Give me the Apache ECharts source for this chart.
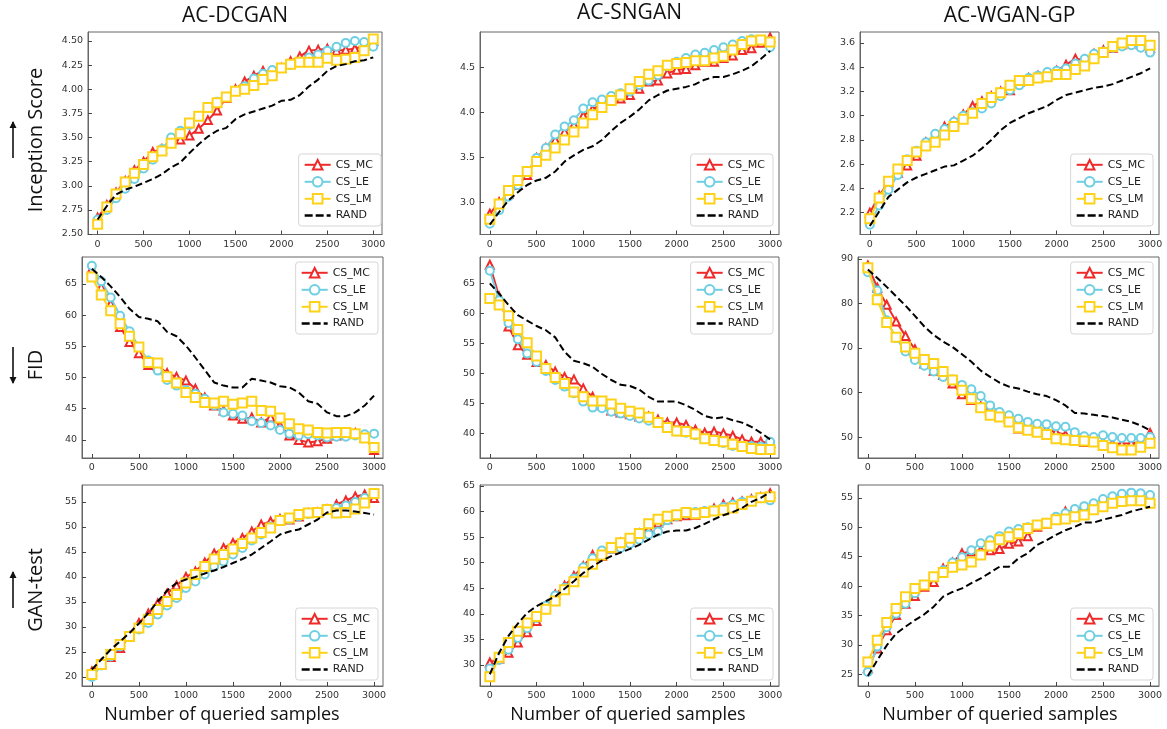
<!DOCTYPE html>
<html><head><meta charset="utf-8">
<script src="https://cdn.jsdelivr.net/npm/echarts@6/dist/echarts.min.js"></script>
<style>html,body{margin:0;padding:0;background:#fff}#c{width:1167px;height:729px}</style>
</head><body><div id="c"></div>
<script>
// ---------------- DATA ----------------
const xs = [0,100,200,300,400,500,600,700,800,900,1000,1100,1200,1300,1400,1500,1600,1700,1800,1900,2000,2100,2200,2300,2400,2500,2600,2700,2800,2900,3000];
const seriesNames = ['CS_MC','CS_LE','CS_LM','RAND'];
const columnTitles = ['AC-DCGAN','AC-SNGAN','AC-WGAN-GP'];
const rowTitles = ['Inception Score','FID','GAN-test'];
const xAxisName = 'Number of queried samples';
const xTicks = [0,500,1000,1500,2000,2500,3000];

// Inception Score
const isDcganMC = [2.67,2.80,2.93,3.05,3.16,3.25,3.35,3.38,3.47,3.48,3.52,3.59,3.68,3.78,3.91,4.00,4.08,4.14,4.19,4.19,4.22,4.29,4.34,4.40,4.41,4.42,4.40,4.41,4.42,4.45,4.50];
const isDcganLE = [2.65,2.75,2.87,2.97,3.07,3.18,3.27,3.38,3.50,3.57,3.63,3.72,3.81,3.87,3.92,3.98,4.03,4.11,4.16,4.20,4.22,4.25,4.28,4.33,4.36,4.40,4.44,4.48,4.50,4.49,4.44];
const isDcganLM = [2.60,2.78,2.915,3.04,3.13,3.22,3.30,3.36,3.44,3.54,3.65,3.72,3.81,3.86,3.92,3.98,4.00,4.04,4.10,4.14,4.22,4.26,4.28,4.28,4.28,4.32,4.30,4.31,4.33,4.40,4.52];
const isDcganRAND = [2.65,2.79,2.91,2.96,2.99,3.03,3.07,3.12,3.19,3.24,3.34,3.43,3.51,3.57,3.60,3.69,3.74,3.77,3.80,3.83,3.88,3.89,3.94,4.03,4.10,4.19,4.24,4.26,4.29,4.30,4.33];

const isSnganMC = [2.87,3.00,3.09,3.19,3.30,3.49,3.60,3.69,3.78,3.86,3.96,4.03,4.09,4.15,4.15,4.19,4.26,4.34,4.35,4.43,4.47,4.48,4.52,4.56,4.56,4.60,4.63,4.69,4.71,4.77,4.83];
const isSnganLE = [2.76,2.91,3.06,3.19,3.34,3.49,3.60,3.75,3.84,3.91,4.04,4.11,4.14,4.18,4.21,4.23,4.30,4.35,4.41,4.51,4.56,4.60,4.64,4.66,4.69,4.72,4.75,4.79,4.81,4.80,4.72];
const isSnganLM = [2.81,2.98,3.13,3.24,3.34,3.45,3.52,3.60,3.69,3.78,3.88,3.97,4.05,4.13,4.19,4.26,4.34,4.42,4.46,4.52,4.54,4.55,4.57,4.57,4.60,4.62,4.69,4.75,4.79,4.80,4.78];
const isSnganRAND = [2.75,2.89,3.02,3.11,3.19,3.24,3.27,3.34,3.45,3.52,3.58,3.62,3.69,3.79,3.88,3.95,4.03,4.13,4.19,4.24,4.26,4.28,4.31,4.36,4.39,4.39,4.42,4.46,4.51,4.59,4.68];

const isWganMC = [2.20,2.34,2.45,2.53,2.59,2.67,2.78,2.84,2.91,2.95,3.01,3.08,3.12,3.16,3.20,3.21,3.28,3.31,3.33,3.34,3.37,3.42,3.47,3.46,3.51,3.54,3.56,3.59,3.61,3.59,3.56];
const isWganLE = [2.10,2.26,2.39,2.51,2.64,2.71,2.78,2.85,2.89,2.95,3.00,3.03,3.06,3.10,3.16,3.21,3.25,3.31,3.33,3.36,3.37,3.39,3.43,3.47,3.51,3.53,3.56,3.57,3.58,3.56,3.52];
const isWganLM = [2.15,2.32,2.46,2.56,2.63,2.70,2.75,2.78,2.84,2.91,2.97,3.02,3.10,3.15,3.19,3.25,3.29,3.29,3.31,3.32,3.34,3.34,3.38,3.41,3.47,3.52,3.57,3.60,3.62,3.62,3.58];
const isWganRAND = [2.09,2.21,2.33,2.39,2.45,2.49,2.52,2.55,2.58,2.59,2.63,2.67,2.73,2.80,2.88,2.94,2.98,3.02,3.05,3.08,3.13,3.17,3.19,3.21,3.23,3.24,3.26,3.29,3.32,3.35,3.39];

// FID
const fidDcganMC = [67.4,64.5,61.8,58.1,55.7,53.9,52.0,51.9,50.7,50.1,49.5,48.2,46.8,45.5,44.7,43.9,43.4,43.6,42.8,43.6,42.3,40.7,40.0,39.6,39.8,40.2,40.7,41.0,41.1,40.4,38.4];
const fidDcganLE = [67.9,65.4,62.8,59.9,57.4,54.9,52.7,51.1,49.6,48.7,48.0,47.4,46.6,45.5,44.4,44.2,43.9,43.0,42.7,42.3,41.6,41.0,40.7,40.9,40.7,40.4,40.5,40.5,40.7,40.9,41.0];
const fidDcganLM = [66.1,63.2,60.7,58.6,56.6,54.9,52.4,52.3,50.1,49.1,47.6,46.8,46.0,45.9,46.2,45.7,45.9,46.2,44.7,44.6,43.5,42.6,41.8,41.6,41.2,41.1,41.2,41.2,41.0,40.3,38.8];
const fidDcganRAND = [67.4,66.1,64.6,62.9,61.0,59.7,59.4,59.0,57.3,56.6,55.1,53.2,51.2,49.2,48.7,48.4,48.4,49.8,49.5,49.2,48.6,48.4,47.6,46.2,45.8,44.4,43.8,43.8,44.4,45.5,47.1];

const fidSnganMC = [68.1,62.8,57.8,54.7,53.1,51.9,51.4,50.3,49.4,49.0,47.5,46.1,44.7,43.8,43.5,43.2,42.8,42.8,42.3,41.8,41.8,41.4,40.6,40.1,40.3,40.0,39.6,39.0,38.6,38.6,38.4];
const fidSnganLE = [67.1,62.2,58.4,55.7,53.3,51.9,50.4,48.9,47.8,46.7,45.3,44.3,44.2,43.6,43.3,42.9,42.5,42.1,41.7,41.1,40.3,40.1,39.7,39.2,38.7,38.4,37.9,37.8,37.9,37.8,38.6];
const fidSnganLM = [62.5,61.4,59.6,57.3,55.1,52.9,50.8,49.3,48.3,46.9,46.1,45.4,45.4,44.9,44.2,43.7,43.4,42.7,41.8,41.0,40.4,40.3,39.9,39.1,38.8,38.6,38.2,37.8,37.5,37.3,37.3];
const fidSnganRAND = [65.0,63.3,61.4,59.7,58.8,57.9,57.2,56.0,53.6,52.1,51.7,51.1,49.9,48.9,48.1,47.9,47.3,46.1,45.3,45.3,45.3,44.7,43.9,42.9,42.5,42.7,42.2,41.8,41.1,40.1,39.0];

const fidWganMC = [88.5,83.5,79.7,75.9,72.7,69.7,66.5,64.9,63.9,62.0,59.6,58.3,56.9,56.0,55.1,54.1,51.9,51.7,51.5,51.7,51.1,50.5,49.2,48.9,49.1,48.9,48.5,48.5,48.6,48.9,50.9];
const fidWganLE = [87.0,82.9,76.2,72.2,69.2,67.3,66.0,64.7,63.5,62.9,61.7,60.7,59.2,57.1,55.6,54.9,54.1,53.4,53.0,52.9,52.4,52.3,51.1,50.2,50.0,50.4,50.0,49.8,49.8,49.8,50.0];
const fidWganLM = [88.0,80.8,75.7,72.4,70.2,68.8,67.4,66.5,64.7,62.8,60.5,58.6,56.6,54.9,54.5,53.4,52.1,51.5,51.1,50.6,49.6,49.4,49.2,49.1,48.9,48.1,47.6,47.1,47.1,47.7,48.6];
const fidWganRAND = [87.6,85.7,83.7,81.6,79.5,77.2,74.8,72.9,71.4,70.2,68.6,66.9,64.9,63.5,62.2,61.3,60.9,60.2,59.6,59.2,58.3,57.1,55.4,55.3,55.0,54.7,54.4,53.9,53.4,52.6,51.5];

// GAN-test
const gtDcganMC = [21.1,22.7,24.0,25.8,28.1,30.8,32.7,34.7,36.7,38.3,40.0,41.1,42.9,44.7,45.8,46.8,47.8,49.1,50.5,51.1,51.6,51.5,52.1,52.8,52.9,53.5,54.5,55.3,56.1,56.5,55.8];
const gtDcganLE = [20.0,22.3,24.1,26.1,28.1,29.5,30.8,32.5,34.3,35.8,37.8,39.1,40.5,42.1,43.1,44.5,45.8,47.3,48.5,50.1,51.3,51.5,52.1,52.6,52.8,53.5,53.8,54.3,55.0,55.8,56.8];
const gtDcganLM = [20.5,22.5,24.5,26.5,28.1,29.8,31.5,33.5,35.1,36.5,38.8,40.5,42.1,43.6,44.5,45.6,46.7,47.8,48.9,49.8,51.3,51.8,52.5,52.8,52.9,53.5,52.8,52.9,53.6,54.8,56.7];
const gtDcganRAND = [21.5,23.5,25.5,27.1,28.8,30.7,32.8,35.1,37.3,38.8,39.5,40.0,40.7,41.3,42.0,42.8,43.6,44.5,45.8,47.1,48.5,49.1,49.5,50.5,51.5,52.9,53.3,53.3,53.1,52.8,52.5];

const gtSnganMC = [30.5,31.3,32.4,34.4,36.4,38.6,41.5,43.8,45.5,47.4,49.3,51.5,51.3,52.8,53.9,54.5,55.7,56.6,57.8,58.5,59.1,59.3,59.4,59.9,60.6,61.4,61.8,62.0,62.4,62.8,63.6];
const gtSnganLE = [29.3,31.0,33.0,35.3,37.2,39.2,41.6,43.6,45.1,46.9,49.1,50.9,52.4,52.7,52.9,53.7,54.5,55.5,56.1,58.3,59.1,59.6,59.9,60.1,60.3,60.9,61.4,61.9,62.2,62.6,62.2];
const gtSnganLM = [27.7,31.5,34.4,36.6,38.2,39.5,40.9,42.5,44.7,46.3,48.2,49.7,51.5,53.0,53.9,54.8,55.7,57.6,58.5,59.1,59.4,59.8,59.6,59.8,60.1,60.3,60.7,61.4,62.0,62.7,62.9];
const gtSnganRAND = [28.2,32.4,35.7,38.1,40.2,41.5,42.5,43.4,44.9,46.4,48.0,49.3,50.4,51.3,52.0,52.7,53.5,54.5,55.5,56.1,56.3,56.3,56.8,57.6,58.5,59.3,59.9,60.7,61.9,62.7,63.8];

const gtWganMC = [26.0,29.4,32.5,35.1,37.0,38.3,39.9,40.7,43.0,44.0,45.6,45.9,46.1,46.1,46.3,47.2,47.6,48.5,50.1,50.6,51.3,52.7,52.8,53.4,53.8,54.2,54.4,54.7,54.7,55.0,54.7];
const gtWganLE = [25.4,29.7,33.0,35.3,37.0,38.8,40.2,41.5,42.7,44.0,44.9,46.1,47.3,47.8,48.5,49.3,49.7,50.0,50.4,50.7,51.8,52.4,53.1,53.6,54.1,54.8,55.3,55.7,55.9,55.8,55.5];
const gtWganLM = [27.1,30.8,33.8,36.2,38.2,39.6,40.2,41.6,42.3,43.2,43.6,44.1,45.3,46.8,47.9,48.4,48.9,49.8,50.4,50.7,51.3,51.4,51.8,52.1,53.0,53.5,54.1,54.4,54.5,54.5,54.1];
const gtWganRAND = [24.7,27.4,29.9,31.9,33.1,34.2,35.2,36.5,38.2,39.0,39.6,40.5,41.3,42.3,43.3,43.3,44.7,45.6,47.0,47.8,48.7,49.5,50.1,50.8,50.8,51.3,51.7,52.1,52.7,53.1,53.5];

// y tick labels per panel
const yTicksIsDcgan = [2.50,2.75,3.00,3.25,3.50,3.75,4.00,4.25,4.50];
const yTicksIsSngan = [3.0,3.5,4.0,4.5];
const yTicksIsWgan = [2.2,2.4,2.6,2.8,3.0,3.2,3.4,3.6];
const yTicksFidDcgan = [40,45,50,55,60,65];
const yTicksFidSngan = [40,45,50,55,60,65];
const yTicksFidWgan = [50,60,70,80,90];
const yTicksGtDcgan = [20,25,30,35,40,45,50,55];
const yTicksGtSngan = [30,35,40,45,50,55,60,65];
const yTicksGtWgan = [25,30,35,40,45,50,55];

// ---------------- PANELS ----------------
const panelData = [
  [isDcganMC,isDcganLE,isDcganLM,isDcganRAND],
  [isSnganMC,isSnganLE,isSnganLM,isSnganRAND],
  [isWganMC,isWganLE,isWganLM,isWganRAND],
  [fidDcganMC,fidDcganLE,fidDcganLM,fidDcganRAND],
  [fidSnganMC,fidSnganLE,fidSnganLM,fidSnganRAND],
  [fidWganMC,fidWganLE,fidWganLM,fidWganRAND],
  [gtDcganMC,gtDcganLE,gtDcganLM,gtDcganRAND],
  [gtSnganMC,gtSnganLE,gtSnganLM,gtSnganRAND],
  [gtWganMC,gtWganLE,gtWganLM,gtWganRAND]
];
const panelTicks = [yTicksIsDcgan,yTicksIsSngan,yTicksIsWgan,yTicksFidDcgan,yTicksFidSngan,yTicksFidWgan,yTicksGtDcgan,yTicksGtSngan,yTicksGtWgan];
// layout: grid box + y extent + label decimals + legend position
const panelLayout = [
  {left:88, top:32, width:294, height:202.5, ymin:2.495, ymax:4.593, dec:2, lgTop:154, lgRight:786},
  {left:480,top:32, width:299, height:202.5, ymin:2.64, ymax:4.89, dec:1, lgTop:154, lgRight:394},
  {left:860,top:32, width:299, height:202.5, ymin:2.02, ymax:3.69, dec:1, lgTop:154, lgRight:14},
  {left:82, top:257,width:301, height:201, ymin:37.1, ymax:69.3, dec:0, lgTop:262, lgRight:789},
  {left:480,top:257,width:299, height:201, ymin:35.9, ymax:69.4, dec:0, lgTop:262, lgRight:394},
  {left:858,top:257,width:301, height:201, ymin:45.3, ymax:90.4, dec:0, lgTop:262, lgRight:14},
  {left:82, top:485,width:301, height:201, ymin:18.2, ymax:58.4, dec:0, lgTop:608, lgRight:789},
  {left:480,top:485,width:299, height:201, ymin:25.9, ymax:65.2, dec:0, lgTop:608, lgRight:394},
  {left:858,top:485,width:301, height:201, ymin:23.0, ymax:57.2, dec:0, lgTop:608, lgRight:14}
];
const colors = ['#ee2a2a','#6fcfe2','#ffd21a','#000000'];
const symbols = ['emptyTriangle','emptyCircle','emptyRect','none'];
const symbolSizes = [8,8,9,0];
const dashIcon = 'path://M0,0h8v2.4h-8z M11,0h8v2.4h-8z M22,0h4v2.4h-4z';

const tickFont = 'DejaVu Sans';
const grids=[], xAxes=[], yAxes=[], series=[], legends=[];
panelLayout.forEach((L,k)=>{
  grids.push({left:L.left, top:L.top, width:L.width, height:L.height, show:true, borderColor:'#666', borderWidth:1, backgroundColor:'transparent'});
  xAxes.push({type:'value', gridIndex:k, min:-105, max:3095,
    axisLine:{show:true, onZero:false, lineStyle:{color:'#666', width:1}}, splitLine:{show:false},
    axisTick:{show:true, inside:true, length:4, customValues:xTicks, lineStyle:{color:'#444'}},
    axisLabel:{customValues:xTicks, margin:5, fontFamily:tickFont, fontSize:9.5, color:'#333', formatter:v=>String(Math.round(v))}});
  const yt = panelTicks[k];
  yAxes.push({type:'value', gridIndex:k, min:L.ymin, max:L.ymax,
    axisLine:{show:true, onZero:false, lineStyle:{color:'#666', width:1}}, splitLine:{show:false},
    axisTick:{show:true, inside:true, length:4, customValues:yt, lineStyle:{color:'#444'}},
    axisLabel:{customValues:yt, margin:5, fontFamily:tickFont, fontSize:9.5, color:'#333',
      formatter:v=>Number(v).toFixed(L.dec)}});
  panelData[k].forEach((arr,s)=>{
    series.push({type:'line', name:seriesNames[s], xAxisIndex:k, yAxisIndex:k,
      data: xs.map((x,i)=>[x, arr[i]]),
      symbol: symbols[s], symbolSize: symbolSizes[s], showSymbol: s<3,
      lineStyle:{width:2, color:colors[s], type: s===3 ? [7,3.5] : 'solid'},
      itemStyle:{color:colors[s], borderWidth:1},
      emphasis:{disabled:true}, animation:false, z: 2+s});
  });
  legends.push({data:[seriesNames[0],seriesNames[1],seriesNames[2],{name:seriesNames[3], icon:dashIcon, itemStyle:{color:'#000'}}],
    orient:'vertical', top:L.lgTop, right:L.lgRight,
    itemWidth:26, itemHeight:12, itemGap:5.4, padding:[5,8,5,5],
    backgroundColor:'rgba(255,255,255,0.85)', borderColor:'#d6d6d6', borderWidth:1, borderRadius:3,
    textStyle:{fontFamily:tickFont, fontSize:11, color:'#222'}, selectedMode:false});
});

// ---------- text/graphic labels ----------
const graphics = [];
const colCenters = [235, 629.5, 1009.5];
const titleY = [16, 13, 16];
columnTitles.forEach((t,i)=>graphics.push({type:'text', x:colCenters[i], y:titleY[i],
  style:{text:t, font:'21px "Open Sans"', fill:'#111', align:'center', verticalAlign:'middle'}}));
const xNameCenters = [222, 628, 1000];
xNameCenters.forEach(cx=>graphics.push({type:'text', x:cx, y:715,
  style:{text:xAxisName, font:'18px "Open Sans"', fill:'#111', align:'center', verticalAlign:'middle'}}));
const rowCenters = [140, 365, 590];
const arrowUp = [true, false, true];
rowTitles.forEach((t,i)=>{
  graphics.push({type:'text', x:36, y:rowCenters[i], rotation:Math.PI/2,
    style:{text:t, font:'20px "Open Sans"', fill:'#111', align:'center', verticalAlign:'middle'}});
  const cy = rowCenters[i], x = 13, half = 18;
  const y1 = cy-half, y2 = cy+half;
  graphics.push({type:'line', shape:{x1:x, y1:y1, x2:x, y2:y2}, style:{stroke:'#111', lineWidth:1.6}});
  const tip = arrowUp[i] ? y1-1 : y2+1;
  const base = arrowUp[i] ? tip+7 : tip-7;
  graphics.push({type:'polygon', shape:{points:[[x,tip],[x-3.5,base],[x+3.5,base]]}, style:{fill:'#111'}});
});

const chart = echarts.init(document.getElementById('c'), null, {renderer:'canvas'});
chart.setOption({
  backgroundColor:'#fff', animation:false,
  grid:grids, xAxis:xAxes, yAxis:yAxes, series:series, legend:legends, graphic:graphics
});
</script></body></html>
